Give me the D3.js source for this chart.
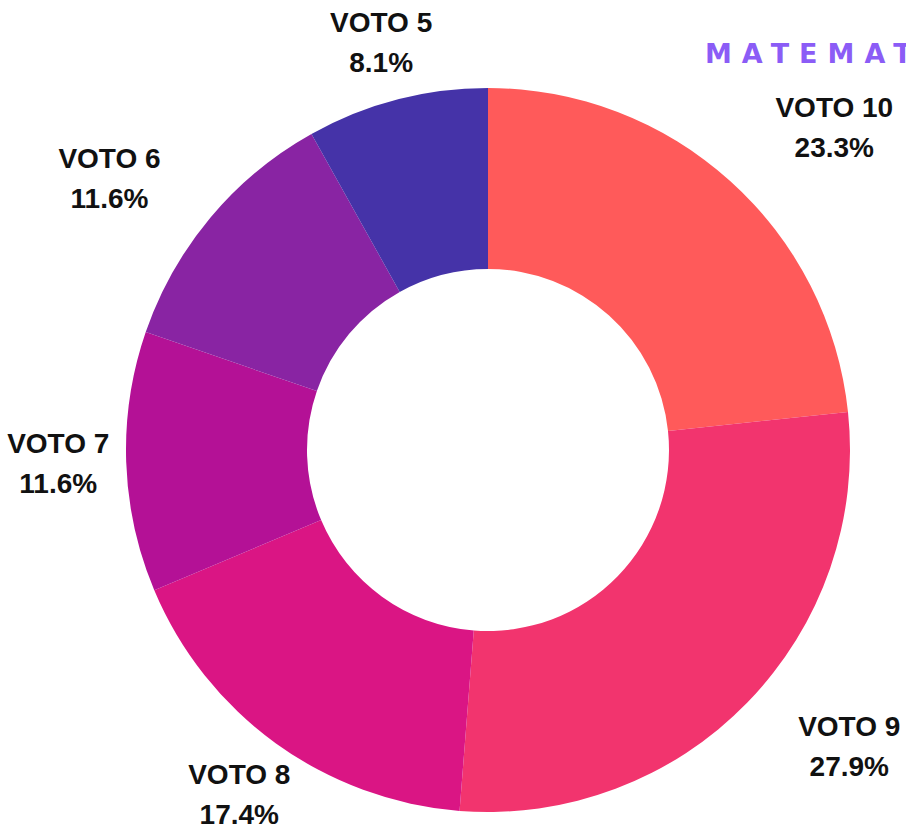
<!DOCTYPE html>
<html><head><meta charset="utf-8">
<script src="https://cdn.jsdelivr.net/npm/d3@7"></script>
<style>html,body{margin:0;padding:0;background:#fff;overflow:hidden}</style>
</head><body>
<svg id="chart" width="906" height="838"></svg>
<script>
const categories = ["VOTO 10","VOTO 9","VOTO 8","VOTO 7","VOTO 6","VOTO 5"];
const values = [23.3, 27.9, 17.4, 11.6, 11.6, 8.1];
const colors = ["#FF5A5A","#F2346E","#DA1584","#B41196","#8924A3","#4533A8"];
const watermark = "MATEMATICA";

const svg = d3.select("#chart");
const cx = 488, cy = 450, outerR = 362, innerR = 181, labelR = 440;
const labelNudge = [[52,14],[46,-1],[9,-3],[10,8],[-41,20],[4,28]];

const pie = d3.pie().sort(null).value(d => d)(values);
const arc = d3.arc().innerRadius(innerR).outerRadius(outerR);
const labelArc = d3.arc().innerRadius(labelR).outerRadius(labelR);

const g = svg.append("g").attr("transform", `translate(${cx},${cy})`);
g.selectAll("path").data(pie).join("path")
  .attr("d", arc).attr("fill", (d,i) => colors[i]);

const lab = g.selectAll("text.lab").data(pie).join("text")
  .attr("class","lab")
  .attr("text-anchor","middle")
  .attr("font-family","'Liberation Sans', Arial, sans-serif")
  .attr("font-weight","bold").attr("font-size",28).attr("fill","#111")
  .attr("transform",(d,i) => {
    const c = labelArc.centroid(d);
    return `translate(${c[0]+labelNudge[i][0]},${c[1]+labelNudge[i][1]})`;
  });
lab.append("tspan").attr("x",0).attr("y",-20).text((d,i)=>categories[i]);
lab.append("tspan").attr("x",0).attr("y",20).text(d=>d.value.toFixed(1)+"%");

svg.append("text").attr("x",705).attr("y",63)
  .attr("font-family","'DejaVu Sans', sans-serif").attr("font-weight","bold")
  .attr("font-size",27).attr("letter-spacing",10).attr("fill","#8B5CF6")
  .text(watermark);
</script>
</body></html>
